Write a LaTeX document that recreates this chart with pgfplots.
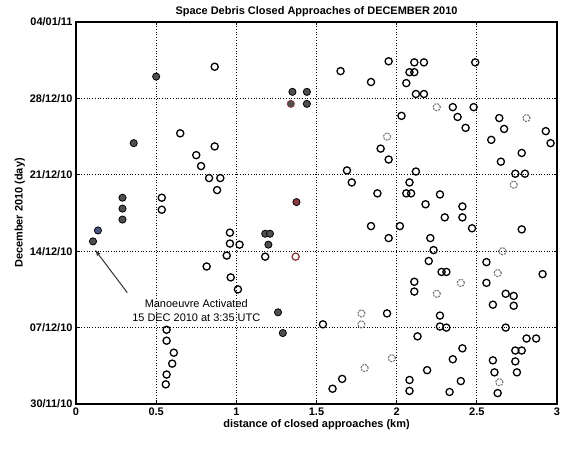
\documentclass[border=0pt]{standalone}
\usepackage{pgfplots}
\pgfplotsset{compat=1.18}
\usepackage{fontspec}
\setmainfont{Liberation Sans}
\definecolor{fillgray}{HTML}{4F4F4F}
\definecolor{fillred}{HTML}{8A3B40}
\definecolor{fillblue}{HTML}{4A5680}
\begin{document}
\begin{tikzpicture}
\begin{axis}[
  scale only axis, width=481bp, height=382bp,
  xmin=0, xmax=3, ymin=0, ymax=35,
  xtick={0,0.5,1,1.5,2,2.5,3}, xticklabels={0,0.5,1,1.5,2,2.5,3},
  ytick={0,7,14,21,28,35},
  yticklabels={30/11/10,07/12/10,14/12/10,21/12/10,28/12/10,04/01/11},
  grid=major,
  grid style={black, line width=1pt, dash pattern=on 1pt off 1.7pt},
  axis line style={black, line width=1.2pt},
  tick style={black, line width=0.8pt}, major tick length=3pt,
  ticklabel style={font=\bfseries\fontsize{11}{13}\selectfont},
  /pgf/number format/assume math mode=true,
  title={Space Debris Closed Approaches of DECEMBER 2010},
  title style={font=\bfseries\fontsize{11}{13}\selectfont, yshift=-4pt},
  xlabel={distance of closed approaches (km)},
  ylabel={December 2010 (day)},
  label style={font=\bfseries\fontsize{11}{13}\selectfont},
  xlabel style={yshift=3pt},
  ylabel style={yshift=-2pt},
  clip=false,
]
% open circles
\addplot[only marks, mark=o, mark size=3.6pt, mark options={line width=1.3pt, black}] table {
x y
0.865 30.9
0.65 24.8
0.865 23.6
0.75 22.8
0.78 21.8
0.83 20.7
0.90 20.7
0.88 19.6
0.535 18.9
0.535 17.8
1.95 31.4
1.65 30.5
1.84 29.5
2.11 31.3
2.17 31.3
2.08 30.4
2.11 30.4
2.06 29.4
2.12 28.4
2.17 28.4
2.49 31.3
2.35 27.2
2.48 27.2
2.03 26.4
2.38 26.3
2.43 25.3
2.64 26.2
2.67 25.2
2.59 24.2
2.93 25.0
2.96 23.9
2.78 23.0
2.65 22.2
2.74 21.1
2.80 21.1
1.90 23.4
1.95 22.4
1.69 21.4
1.72 20.3
1.88 19.3
2.12 21.3
2.08 20.3
2.06 19.3
2.09 19.3
2.18 18.3
2.27 19.2
2.30 17.1
2.41 18.1
2.41 17.1
2.47 16.1
2.78 16.0
1.84 16.3
2.02 16.3
1.95 15.2
2.21 15.2
2.23 14.1
2.20 13.1
2.28 12.1
2.31 12.1
2.11 11.2
2.11 10.3
2.56 13.0
2.56 11.1
2.91 11.9
2.68 10.1
2.73 9.9
2.60 9.1
2.73 9.0
2.68 7.0
2.81 6.0
2.87 6.0
2.74 4.9
2.78 4.9
2.60 4.0
2.74 3.9
2.61 2.9
2.75 2.9
2.63 1.0
1.94 8.3
1.54 7.3
2.13 6.2
2.27 8.1
2.27 7.1
2.31 7.0
2.41 5.1
2.35 4.1
2.19 3.1
2.40 2.1
2.33 1.1
2.08 2.2
2.08 1.2
1.66 2.3
1.60 1.4
0.96 15.7
0.96 14.7
1.02 14.6
0.94 13.6
0.815 12.6
0.965 11.6
1.01 10.5
1.18 13.5
0.565 6.8
0.565 5.8
0.61 4.7
0.60 3.7
0.565 2.7
0.56 1.8
};
% faint open circles
\addplot[only marks, mark=o, mark size=3.6pt, mark options={line width=1.1pt, black!55, dash pattern=on 2pt off 1pt}] table {
x y
2.25 27.2
2.81 26.2
2.73 20.1
1.94 24.5
2.40 11.1
2.25 10.1
2.66 14.0
2.63 12.0
1.78 8.3
1.78 7.3
1.97 4.2
1.80 3.3
2.64 2.0
};
% red open
\addplot[only marks, mark=o, mark size=3.6pt, mark options={line width=1.3pt, fillred}] table {
x y
1.37 13.5
};
% filled dark
\addplot[only marks, mark=*, mark size=3.6pt, mark options={line width=0.8pt, draw=black, fill=fillgray}] table {
x y
0.50 30.0
1.35 28.6
1.44 28.6
1.44 27.5
0.36 23.9
0.29 18.9
0.29 17.9
0.29 16.9
0.106 14.9
1.18 15.6
1.21 15.6
1.20 14.6
1.26 8.4
1.29 6.5
};
% filled red tinted
\addplot[only marks, mark=*, mark size=3.6pt, mark options={line width=0.8pt, draw=fillred, fill=fillgray}] table {
x y
1.34 27.5
};
\addplot[only marks, mark=*, mark size=3.6pt, mark options={line width=0.8pt, draw=black, fill=fillred}] table {
x y
1.375 18.5
};
% filled blue tinted
\addplot[only marks, mark=*, mark size=3.6pt, mark options={line width=0.8pt, draw=black, fill=fillblue}] table {
x y
0.137 15.9
};
% annotation
\draw[-{latex}, line width=1pt, black!80] (axis cs:0.32,10.2) -- (axis cs:0.12,14.1);
\node[font=\fontsize{11}{13}\selectfont, align=center, inner sep=0pt] at (axis cs:0.75,8.55)
  {Manoeuvre Activated\\[1pt]15 DEC 2010 at 3:35 UTC};
\end{axis}
\pgfresetboundingbox
\path (current axis.south west) ++(-76bp,-46bp) rectangle ++(561bp,450bp);
\end{tikzpicture}
\end{document}
